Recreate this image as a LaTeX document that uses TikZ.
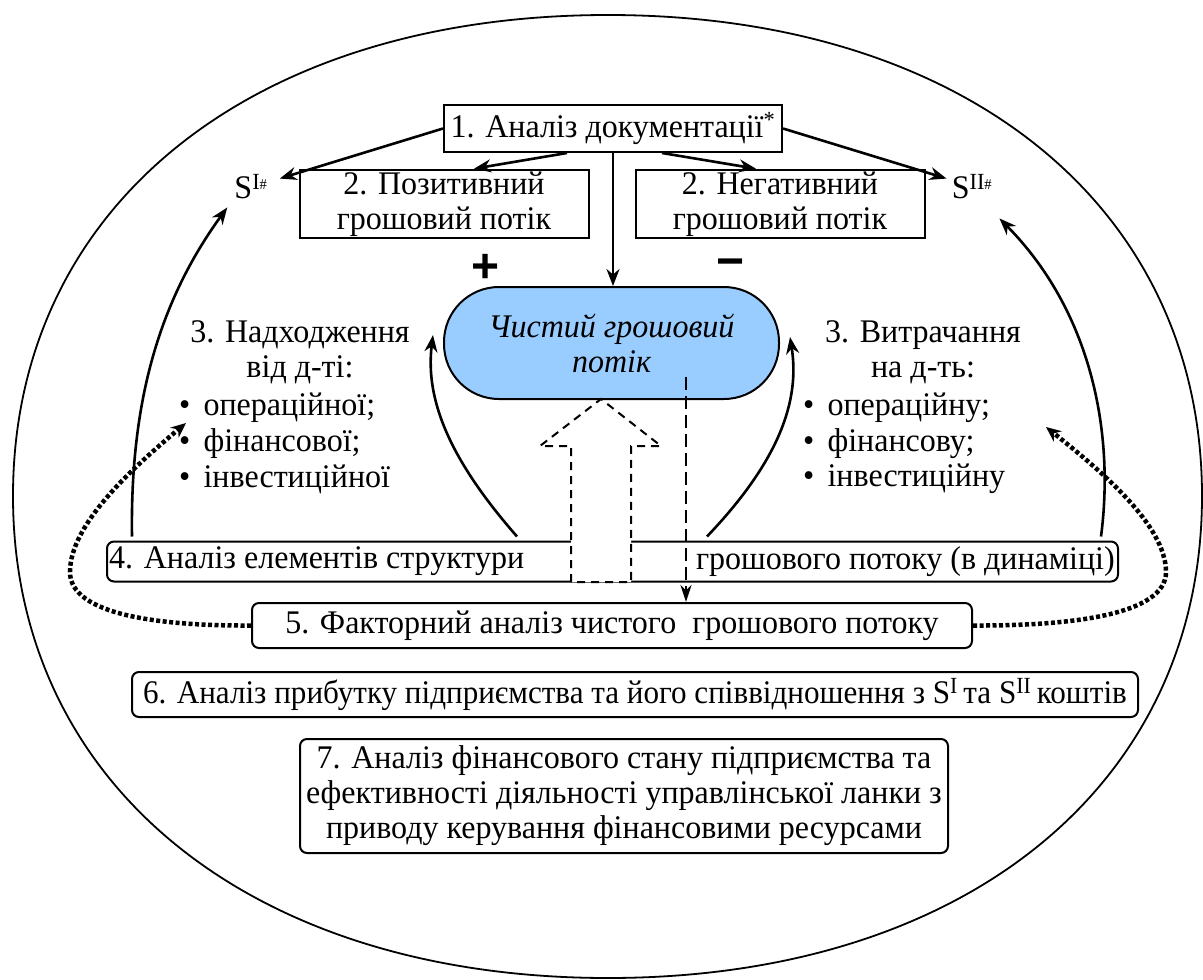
\documentclass[tikz,border=0pt]{standalone}
\usepackage{fontspec}
\setmainfont{Liberation Serif}[FakeStretch=0.97]
\setsansfont{Liberation Sans}
\newfontfamily\narrowserif{Liberation Serif}[FakeStretch=0.943]
\usetikzlibrary{arrows.meta}
\definecolor{netblue}{RGB}{153,204,255}
\newcommand{\diafont}{\fontsize{33}{35}\selectfont}
\newcommand{\hashsup}{\fontsize{15}{15}\selectfont\#}
\tikzset{
	box/.style={draw, line width=2pt, inner sep=2pt, align=center},
	roundbox/.style={box, rounded corners=7pt},
	netflow/.style={draw, line width=2pt, fill=netblue, rounded corners=55pt, align=center, minimum width=335pt, minimum height=112pt, font=\diafont\itshape},
	plain/.style={inner sep=0pt},
	sign/.style={inner sep=0pt, font=\sffamily\bfseries\fontsize{48}{48}\selectfont},
	arr/.style={line width=2.6pt, -{Stealth[length=17pt, width=13pt]}},
	dotarr/.style={line width=4.5pt, dash pattern=on 4pt off 2.5pt, -{Stealth[length=15pt, width=13pt]}},
	dasharr/.style={line width=2.6pt, dash pattern=on 13pt off 6pt, -{Stealth[length=17pt, width=11pt]}},
	hollow/.style={line width=2pt, dash pattern=on 8pt off 6pt, fill=white}
}

\begin{document}
\begin{tikzpicture}[x=1pt, y=-1pt, font=\diafont]
	\useasboundingbox (0,0) rectangle (1203,980);
	\draw[line width=1.8pt] (608,15) .. controls (965,15) and (1202,207) .. (1202,496) .. controls (1202,785) and (965,978) .. (608,978) .. controls (251,978) and (13,785) .. (13,496) .. controls (13,207) and (251,15) .. (608,15) -- cycle;

	\node[box, minimum width=338pt, minimum height=47pt] (doc) at (613,128.5) {1. Аналіз документації\textsuperscript{*}};
	\node[box, minimum width=289pt, minimum height=64pt] (pos) at (444,204) {2. Позитивний\\грошовий потік};
	\node[box, minimum width=289pt, minimum height=64pt] (neg) at (780,204) {2. Негативний\\грошовий потік};
	\node[plain] (sI) at (251,187) {S\textsuperscript{I\hashsup}};
	\node[plain] (sII) at (972,187) {S\textsuperscript{II\hashsup}};
	\node[sign] (plus) at (486,268) {+};
	\node[sign] (minus) at (731,268) {−};
	\node[netflow] (net) at (611.5,343) {Чистий грошовий\\потік};

	\node[plain, align=center] (inhead) at (300,352) {3. Надходження\\від д-ті:};
	\node[plain, align=center] (outhead) at (923,352) {3. Витрачання\\на д-ть:};
	\foreach \x [count = \xi] in {операційної;, фінансової;, інвестиційної}
	{
		\node[plain, anchor=west] (in\xi) at (179,372.5+35.5*\xi) {\textbullet\hspace{0.4em}\x};
	}
	\foreach \x [count = \xi] in {операційну;, фінансову;, інвестиційну}
	{
		\node[plain, anchor=west] (out\xi) at (803,372.5+35.5*\xi) {\textbullet\hspace{0.4em}\x};
	}

	\node[roundbox, minimum width=1011pt, minimum height=40pt] (struct) at (612.5,561.5) {};
	\draw[hollow] (571,582) -- (571,446) -- (540,446) -- (601,399) -- (661,446) -- (631,446) -- (631,582) -- cycle;
	\node[plain, anchor=west] (structl) at ([xshift=3pt]struct.west) {4. Аналіз елементів структури};
	\node[plain, anchor=east] (structr) at ([xshift=-4pt]struct.east) {грошового потоку (в динаміці)};

	\node[roundbox, minimum width=720pt, minimum height=45pt] (factor) at (612,625.5) {5. Факторний аналіз чистого~ грошового потоку};
	\node[roundbox, minimum width=1006pt, minimum height=45pt, font=\diafont\narrowserif] (profit) at (635,694.5) {6. Аналіз прибутку підприємства та його співвідношення з S\textsuperscript{I}\,та S\textsuperscript{II}\,коштів};
	\node[roundbox, minimum width=648pt, minimum height=114pt] (state) at (624,796) {7. Аналіз фінансового стану підприємства та\\ефективності діяльності управлінської ланки з\\приводу керування фінансовими ресурсами};

	\coordinate (netin) at (686,377);
	\coordinate (intip) at (186,423);
	\coordinate (outtip) at (1046,427);

	\draw[arr] (doc.south) -- (doc.south |- net.north);
	\draw[arr] (doc.west) -- ([shift={(12,4)}]sI.north east);
	\draw[arr] ([xshift=-46pt]doc.south) -- ([xshift=30pt]pos.north);
	\draw[arr] ([xshift=49pt]doc.south) -- ([xshift=-24pt]neg.north);
	\draw[arr] (doc.east) -- ([shift={(-5,4)}]sII.north west);

	\draw[arr] ([shift={(26,-4)}]struct.north west) .. controls (130,400) and (160,300) .. ([shift={(-7,8)}]sI.south west);
	\draw[arr] ([shift={(-18,-4)}]struct.north east) .. controls (1115,430) and (1090,310) .. ([shift={(7,19)}]sII.south east);
	\draw[arr] ([shift={(-95.5,-4)}]struct.north) .. controls (450,460) and (425,400) .. ([shift={(-10,-8)}]net.west);
	\draw[arr] ([shift={(94.5,-4)}]struct.north) .. controls (780,460) and (800,400) .. ([shift={(10,-6)}]net.east);

	\draw[dotarr] (factor.west) .. controls (160,626) and (70,615) .. (70,572) .. controls (70,525) and (130,470) .. (intip);
	\draw[dotarr] (factor.east) .. controls (1070,626) and (1166,615) .. (1166,572) .. controls (1166,525) and (1100,470) .. (outtip);
	\draw[dasharr] (netin) -- (netin |- factor.north);
\end{tikzpicture}
\end{document}
